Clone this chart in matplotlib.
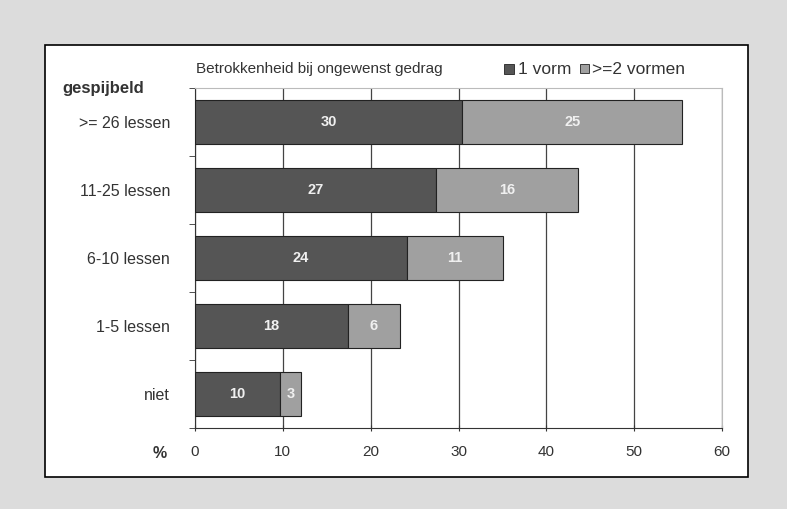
import matplotlib.pyplot as plt
from matplotlib.patches import Rectangle

categories = ['>= 26 lessen', '11-25 lessen', '6-10 lessen', '1-5 lessen', 'niet']
een_vorm = [30.4, 27.4, 24.1, 17.4, 9.7]
twee_vormen = [25.1, 16.2, 11.0, 5.9, 2.4]
een_labels = ['30', '27', '24', '18', '10']
twee_labels = ['25', '16', '11', '6', '3']
xticks = [0, 10, 20, 30, 40, 50, 60]

plt.rcParams['font.family'] = ['Liberation Sans', 'DejaVu Sans']

W, H = 787, 509
fig = plt.figure(figsize=(W/100, H/100), dpi=100)
fig.patch.set_facecolor('#dcdcdc')

# white panel with black border, behind the axes
fig.patches.append(Rectangle((45/W, 1-477/H), (748-45)/W, (477-45)/H,
                             transform=fig.transFigure, facecolor='white',
                             edgecolor='black', lw=1.2, zorder=-10))

ax = fig.add_axes([195/W, 1-428/H, (722-195)/W, (428-88)/H])
ax.set_facecolor('none')
ax.set_zorder(1)

dark, light = '#555555', '#a0a0a0'
txt = '#333333'
y = list(range(len(categories)))
ax.barh(y, een_vorm, height=0.66, color=dark, edgecolor='#222222', lw=0.8, zorder=3)
ax.barh(y, twee_vormen, left=een_vorm, height=0.66, color=light, edgecolor='#222222', lw=0.8, zorder=3)

for i in y:
    ax.text(een_vorm[i]/2, i, een_labels[i], color='#f0f0f0', ha='center', va='center',
            fontsize=10.5, fontweight='bold', zorder=4)
    ax.text(een_vorm[i] + twee_vormen[i]/2, i, twee_labels[i], color='#f0f0f0', ha='center',
            va='center', fontsize=10.5, fontweight='bold', zorder=4)

ax.set_xlim(0, 60)
ax.set_ylim(4.5, -0.5)
ax.set_xticks(xticks)
ax.set_xticklabels([str(t) for t in xticks], fontsize=11, color=txt)
ax.set_yticks(y)
ax.set_yticklabels(categories, fontsize=11.5, color=txt)
ax.tick_params(axis='y', length=0, pad=18)
ax.set_yticks([i - 0.5 for i in range(len(categories) + 1)], minor=True)
ax.tick_params(axis='y', which='minor', length=4, direction='out', color='#333333')
ax.tick_params(axis='x', length=4, direction='inout', pad=10, color='#333333')
ax.grid(axis='x', color='#444444', lw=0.9, zorder=1)
ax.set_axisbelow(True)

for s in ['top', 'right']:
    ax.spines[s].set_color('#bbbbbb')
    ax.spines[s].set_linewidth(0.8)
ax.spines['left'].set_color('#333333')
ax.spines['bottom'].set_color('#333333')

fig.text(62/W, 1-88/H, 'gespijbeld', fontsize=12, fontweight='bold', va='center', color=txt)
fig.text(153/W, 1-453/H, '%', fontsize=11.5, fontweight='bold', va='center', color=txt)
fig.text(196/W, 1-69/H, 'Betrokkenheid bij ongewenst gedrag', fontsize=11, va='center', color=txt)

# legend
fig.patches.append(Rectangle((504/W, 1-74/H), 10/W, 10/H, transform=fig.transFigure,
                             facecolor=dark, edgecolor='#222222', lw=0.6))
fig.text(518/W, 1-69/H, '1 vorm', fontsize=12.5, va='center', color=txt)
fig.patches.append(Rectangle((580/W, 1-73/H), 9/W, 9/H, transform=fig.transFigure,
                             facecolor=light, edgecolor='#222222', lw=0.6))
fig.text(592/W, 1-69/H, '>=2 vormen', fontsize=12.5, va='center', color=txt)

fig.savefig('out.png', dpi=100, facecolor=fig.get_facecolor())
